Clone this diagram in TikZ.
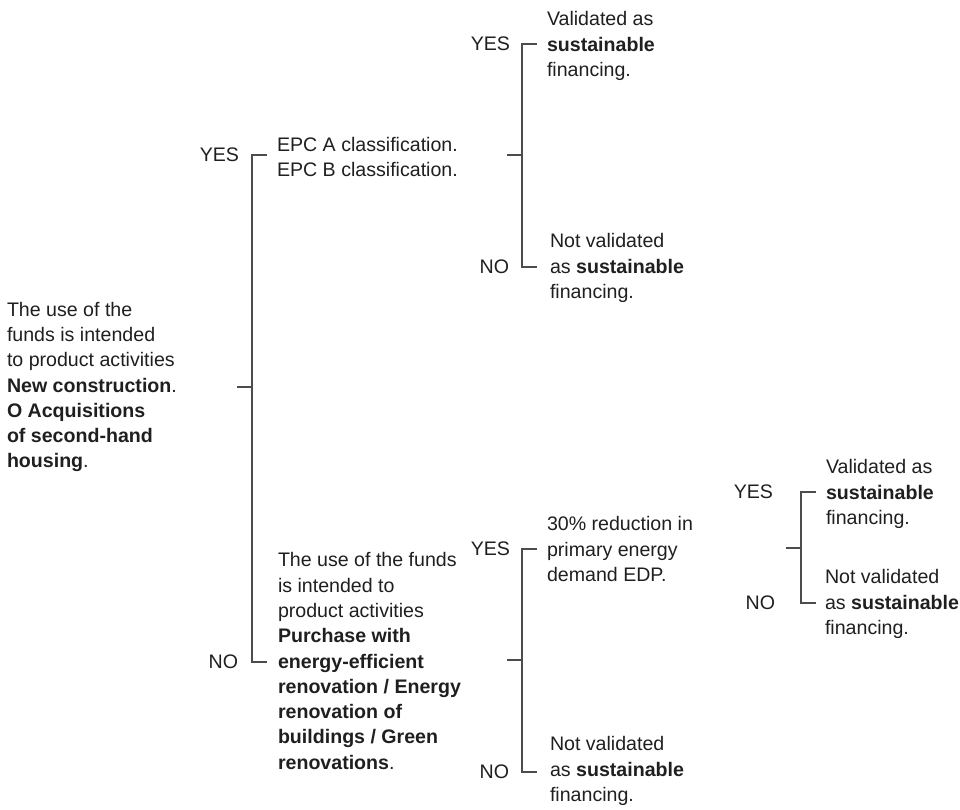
\documentclass[tikz,border=0pt]{standalone}
\usepackage{fontspec}
\setmainfont{Liberation Sans}
\begin{document}
\begin{tikzpicture}[x=1pt,y=-1pt,
  txt/.style={inner sep=0pt, outer sep=0pt, align=left, anchor=west,
    text=black!88, font=\fontsize{19.6}{25.3}\selectfont},
  answer/.style={inner sep=0pt, outer sep=0pt, anchor=east,
    text=black!88, font=\fontsize{19.6}{25.3}\selectfont},
  branch/.style={draw=black!70, line width=1.2pt}]
\useasboundingbox (0,0) rectangle (960,810);

% decision texts
\node[txt] (root) at (7,387) {The use of the\\funds is intended\\to product activities\\
  \textbf{New construction}.\\\textbf{O Acquisitions}\\\textbf{of second-hand}\\\textbf{housing}.};
\node[txt] (epc) at (277,157) {EPC A classification.\\EPC B classification.};
\node[txt] (reno) at (278,661) {The use of the funds\\is intended to\\product activities\\
  \textbf{Purchase with}\\\textbf{energy-efficient}\\\textbf{renovation / Energy}\\
  \textbf{renovation of}\\\textbf{buildings / Green}\\\textbf{renovations}.};
\node[txt] (edp) at (547,549) {30\% reduction in\\primary energy\\demand EDP.};

% outcomes
\node[txt] (ok1) at (547,46) {Validated as\\\textbf{sustainable}\\financing.};
\node[txt] (ko1) at (550,268) {Not validated\\as \textbf{sustainable}\\financing.};
\node[txt] (ko2) at (550,771) {Not validated\\as \textbf{sustainable}\\financing.};
\node[txt] (ok3) at (826,494) {Validated as\\\textbf{sustainable}\\financing.};
\node[txt] (ko3) at (825,604) {Not validated\\as \textbf{sustainable}\\financing.};

% answer labels
\node[answer] (yesA) at (239,155) {YES};
\node[answer] (noA)  at (238,662) {NO};
\node[answer] (yesB) at (510,44)  {YES};
\node[answer] (noB)  at (509,267) {NO};
\node[answer] (yesC) at (510,549) {YES};
\node[answer] (noC)  at (509,772) {NO};
\node[answer] (yesD) at (773,492) {YES};
\node[answer] (noD)  at (775,603) {NO};

% bracket junctions
\coordinate (jA) at (252,387);
\coordinate (jB) at (522,155);
\coordinate (jC) at (522,660);
\coordinate (jD) at (801,548);

% brackets
\foreach \j/\y/\n in {jA/yesA/noA, jB/yesB/noB, jC/yesC/noC, jD/yesD/noD}{
  \draw[branch] ([xshift=-15pt]\j) -- (\j);
  \draw[branch] ([xshift=15pt]\j |- \y) -- (\j |- \y) -- (\j |- \n) -- ([xshift=15pt]\j |- \n);
}
\end{tikzpicture}
\end{document}
